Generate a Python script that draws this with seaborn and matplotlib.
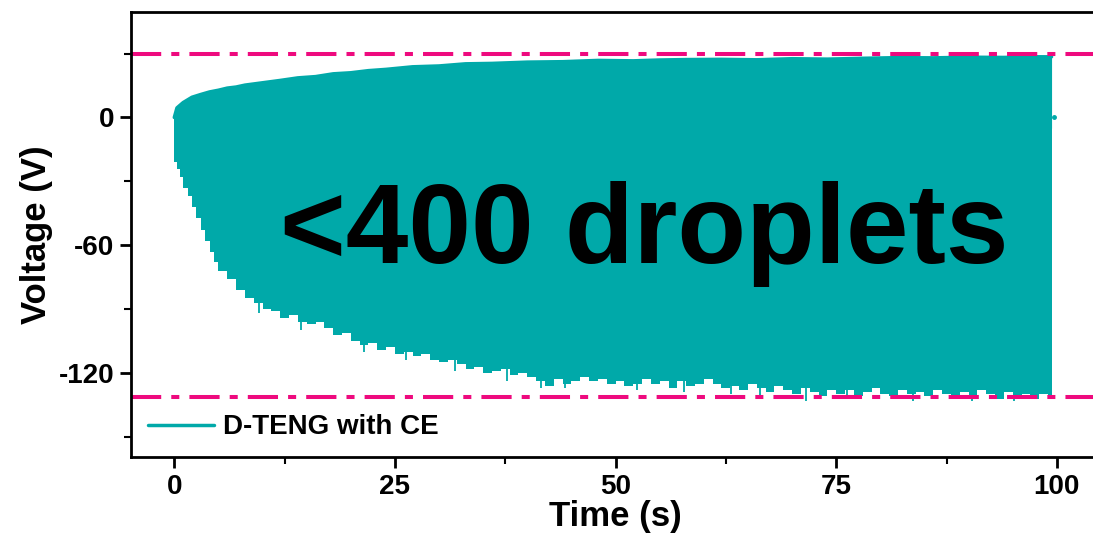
"""Voltage output of the D-TENG with CE over 100 s (<400 droplets)."""
import matplotlib
matplotlib.use("Agg")
import matplotlib.pyplot as plt
from matplotlib.ticker import MultipleLocator
import numpy as np
import pandas as pd
import seaborn as sns

TEAL = "#00A9A9"
PINK = "#EE0A7E"

# upper peak envelope (s, V)
t_upper = [0, 0.3, 1, 2, 3, 4, 5, 6, 7, 8, 10, 12, 14, 16, 18, 20, 22,
           24, 27, 30, 33, 36, 40, 44, 48, 52, 55, 58, 62, 66, 70, 74,
           78, 82, 86, 90, 94, 97, 99.4]
v_upper = [0, 4.5, 7, 9.5, 10.8, 12, 12.8, 13.8, 14.3, 15.2, 16.3, 17.4,
           18.6, 19.2, 20.5, 21.0, 22, 22.6, 23.8, 24.2, 25.2, 25.4, 26,
           26.2, 26.8, 26.6, 27, 27.2, 27.3, 27.1, 27.6, 27.4, 27.8, 28.1,
           28, 28.3, 28.2, 28.5, 28.5]

# lower peak envelope (s, V)
t_lower = [0, 0.3, 0.6, 1.0, 1.5, 2.0, 2.5, 3.0, 3.5, 4.0, 4.5] + \
          list(range(5, 100)) + [99.4]
v_lower = [-21, -24, -28, -33, -37, -42, -47, -53, -58, -63, -68,
           -72, -76, -81, -85, -87, -90, -91, -94, -93, -96,
           -97, -96, -99, -102, -101, -105, -107, -106, -109, -108,
           -111, -110, -112, -111, -114, -115, -114, -116, -118, -117,
           -120, -119, -118, -121, -120, -122, -124, -126, -123, -125,
           -124, -122, -124, -123, -125, -124, -126, -125, -123, -125,
           -124, -127, -124, -126, -125, -123, -125, -127, -126, -128,
           -125, -127, -129, -126, -128, -130, -127, -129, -131, -128,
           -130, -128, -131, -129, -127, -130, -131, -128, -130, -129,
           -131, -128, -130, -132, -129, -131, -128, -130, -132, -129,
           -131, -130, -132, -130, -131, -131]

# isolated deeper droplets on the lower edge (s, V)
t_spike = [9.6, 14.4, 21.5, 26.2, 31.8, 37.7, 41.6, 44.3, 52.4, 57.8,
           63.1, 66.4, 71.6, 76.2, 83.7, 90.4, 95.2]
v_spike = [-92, -100, -110, -114, -119, -124, -127, -127, -128, -129,
           -130, -131, -133, -132, -133, -133, -133]

limit_upper = 30
limit_lower = -131.5

label_text = "<400 droplets"
legend_label = "D-TENG with CE"

sns.set_theme(style="ticks")
plt.rcParams["font.family"] = ["Liberation Sans", "DejaVu Sans"]
plt.rcParams["font.weight"] = "bold"
plt.rcParams["axes.unicode_minus"] = False
for key in ("text.color", "axes.labelcolor", "xtick.color", "ytick.color"):
    plt.rcParams[key] = "black"

fig = plt.figure(figsize=(10.93, 5.39), dpi=100)
ax = fig.add_axes([0.1199, 0.152, 0.8866, 0.8256])

up = pd.DataFrame({"t": t_upper, "v": v_upper})
low = pd.DataFrame({"t": t_lower, "v": v_lower})

ax.fill_between(up["t"], -5, up["v"], color=TEAL, lw=0)
ax.fill_between(low["t"], low["v"], 1, color=TEAL, lw=0, step="post")
ax.vlines(t_spike, np.array(v_spike) + 6, v_spike, color=TEAL, lw=1.3)
ax.plot([99.7], [0], marker="o", ms=2.5, color=TEAL)
sns.lineplot(data=up, x="t", y="v", color=TEAL, lw=2.5,
             label=legend_label, ax=ax)

for y in (limit_upper, limit_lower):
    ax.axhline(y, color=PINK, lw=2.9, dashes=(7.5, 2.5, 2, 2.5))

ax.text(53.3, -68.2, label_text, fontsize=81, fontweight="bold",
        ha="center", va="baseline", color="black")

ax.set_xlim(-4.9, 104.9)
ax.set_ylim(-159.5, 49.5)
ax.xaxis.set_major_locator(MultipleLocator(25))
ax.xaxis.set_minor_locator(MultipleLocator(12.5))
ax.yaxis.set_major_locator(MultipleLocator(60))
ax.yaxis.set_minor_locator(MultipleLocator(30))

ax.tick_params(which="major", direction="out", length=8, width=2,
               labelsize=20, pad=4, color="black", labelcolor="black")
ax.tick_params(which="minor", direction="out", length=5, width=1.5,
               color="black")
for lab in ax.get_xticklabels() + ax.get_yticklabels():
    lab.set_fontweight("bold")

for sp in ax.spines.values():
    sp.set_linewidth(2)
    sp.set_color("black")
ax.spines["right"].set_visible(False)

ax.set_xlabel("Time (s)", fontsize=25, fontweight="bold", labelpad=0)
ax.set_ylabel("Voltage (V)", fontsize=25, fontweight="bold", labelpad=4)

leg = ax.legend(loc="lower left", frameon=False, fontsize=20,
                handlelength=2.4, handletextpad=0.3,
                borderaxespad=0.2, bbox_to_anchor=(0.0, 0.0))
for txt in leg.get_texts():
    txt.set_fontweight("bold")
    txt.set_color("black")

fig.savefig("out.png", dpi=100)
